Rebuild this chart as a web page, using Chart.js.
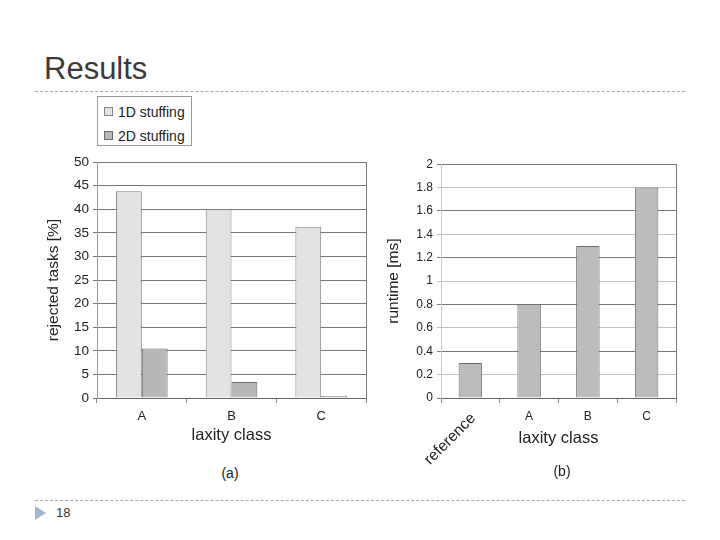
<!DOCTYPE html>
<html>
<head>
<meta charset="utf-8">
<script src="https://cdn.jsdelivr.net/npm/chart.js@4.4.0/dist/chart.umd.min.js"></script>
<style>
  body { margin: 0; width: 720px; height: 540px; background: #fff; position: relative; overflow: hidden;
         font-family: "Liberation Sans", Arial, sans-serif; color: #222; }
  .abs { position: absolute; }
  #title { left: 44px; top: 51px; font-size: 31px; color: #3a3a3a; }
  .rule { left: 35px; width: 650px; height: 0; border-top: 1px dashed #a8a8a8; }
  #tri { left: 35px; top: 506px; width: 0; height: 0; border-top: 7px solid transparent;
         border-bottom: 7px solid transparent; border-left: 11px solid #9fb6cf; }
  #page { left: 56px; top: 505px; font-size: 13px; color: #333; }
  #legend { left: 97px; top: 96px; width: 95px; height: 50px; border: 1px solid #9a9a9a; box-sizing: border-box; }
  .item { position: absolute; left: 6px; font-size: 14px; line-height: 16px; }
  .sw { display: inline-block; width: 7px; height: 7px; margin-right: 5px; vertical-align: 1px; }
  .cap { font-size: 14px; transform: translateX(-50%); }
  canvas { position: absolute; }
</style>
</head>
<body>
<div id="title" class="abs">Results</div>
<div class="abs rule" style="top:91px"></div>
<div class="abs rule" style="top:500px"></div>
<div id="tri" class="abs"></div>
<div id="page" class="abs">18</div>

<div id="legend" class="abs"></div>
<canvas id="left" width="330" height="299" style="left:40px; top:150px"></canvas>
<canvas id="right" width="300" height="329" style="left:380px; top:153px"></canvas>
<div class="abs cap" style="left:230px; top:465px">(a)</div>
<div class="abs cap" style="left:562px; top:463px">(b)</div>

<script>
// left chart: rejected tasks per laxity class
const classes = ['A', 'B', 'C'];
const stuffing1D = [43.8, 40.0, 36.3];
const stuffing2D = [10.5, 3.4, 0.5];

// right chart: runtime
const runtimeLabels = ['reference', 'A', 'B', 'C'];
const runtimeMs = [0.3, 0.8, 1.3, 1.8];

Chart.defaults.font.family = '"Liberation Sans", Arial, sans-serif';
Chart.defaults.color = '#222';

// right-hand border of the plot box
const frame = {
  id: 'frame',
  afterDraw(chart) {
    const a = chart.chartArea, ctx = chart.ctx;
    ctx.save();
    ctx.strokeStyle = '#7a7a7a';
    ctx.lineWidth = 1;
    ctx.beginPath();
    ctx.moveTo(Math.round(a.right) + 0.5, a.top);
    ctx.lineTo(Math.round(a.right) + 0.5, a.bottom);
    ctx.stroke();
    ctx.restore();
  }
};

// the first category label of the runtime chart is drawn slanted
const slantFirst = {
  id: 'slantFirst',
  afterDraw(chart) {
    const x = chart.scales.x, ctx = chart.ctx;
    const px = x.getPixelForTick(0);
    ctx.save();
    ctx.translate(px + 3, x.top + 18);
    ctx.rotate(-Math.PI / 4);
    ctx.font = '15.5px "Liberation Sans", Arial, sans-serif';
    ctx.textAlign = 'right';
    ctx.textBaseline = 'middle';
    ctx.fillStyle = '#222';
    ctx.fillText(chart.data.labels[0], 0, 0);
    ctx.restore();
  }
};

const leftSets = [
  { label: '1D stuffing', data: stuffing1D, backgroundColor: '#e3e3e3', borderColor: '#858585', borderWidth: 1 },
  { label: '2D stuffing', data: stuffing2D, backgroundColor: '#b8b8b8', borderColor: '#6a6a6a', borderWidth: 1 }
];

// html legend from the datasets
const legend = document.getElementById('legend');
leftSets.forEach((ds, i) => {
  const d = document.createElement('div');
  d.className = 'item';
  d.style.top = (7 + i * 24) + 'px';
  d.innerHTML = '<span class="sw" style="background:' + ds.backgroundColor +
    ';border:1px solid ' + ds.borderColor + '"></span>' + ds.label;
  legend.appendChild(d);
});

new Chart(document.getElementById('left'), {
  type: 'bar',
  data: { labels: classes, datasets: leftSets },
  options: {
    responsive: false,
    animation: false,
    layout: { padding: { top: 4, right: 4 } },
    plugins: { legend: { display: false }, tooltip: { enabled: false } },
    datasets: { bar: { categoryPercentage: 0.575, barPercentage: 1 } },
    scales: {
      x: {
        grid: { offset: true, drawOnChartArea: false, tickLength: 5, color: '#888' },
        border: { color: '#666' },
        ticks: { font: { size: 13 }, padding: 6 },
        title: { display: true, text: 'laxity class', font: { size: 16.5 }, padding: { top: 4, bottom: 4 } },
        afterFit(s) { s.height = 51; }
      },
      y: {
        min: 0, max: 50,
        ticks: { stepSize: 5, font: { size: 13.5 }, padding: 4 },
        grid: { color: '#767676', tickLength: 4 },
        border: { color: '#999' },
        title: { display: true, text: 'rejected tasks [%]', font: { size: 15.5 }, padding: { top: 4, bottom: 4 } },
        afterFit(s) { s.width = 57; }
      }
    }
  },
  plugins: [frame]
});

new Chart(document.getElementById('right'), {
  type: 'bar',
  data: {
    labels: runtimeLabels,
    datasets: [{ label: 'runtime', data: runtimeMs, backgroundColor: '#bcbcbc', borderColor: '#6e6e6e', borderWidth: 1 }]
  },
  options: {
    responsive: false,
    animation: false,
    layout: { padding: { top: 4, right: 4, bottom: 30 } },
    plugins: { legend: { display: false }, tooltip: { enabled: false } },
    datasets: { bar: { categoryPercentage: 0.8, barPercentage: 0.5 } },
    scales: {
      x: {
        grid: { offset: true, drawOnChartArea: false, tickLength: 5, color: '#888' },
        border: { color: '#666' },
        ticks: { font: { size: 12 }, padding: 6, callback: (v, i) => i === 0 ? '' : runtimeLabels[i] },
        title: { display: true, text: 'laxity class', font: { size: 16.5 }, padding: { top: 4, bottom: 4 } },
        afterFit(s) { s.height = 54; }
      },
      y: {
        min: 0, max: 2,
        ticks: { stepSize: 0.2, font: { size: 12 }, padding: 4, callback: v => String(+v.toFixed(1)) },
        grid: {
          tickLength: 4,
          color: c => (c.tick && Math.round(c.tick.value * 10) % 4 === 0) ? '#777' : '#c2c2c2'
        },
        border: { color: '#c8c8c8' },
        title: { display: true, text: 'runtime [ms]', font: { size: 15.5 }, padding: { top: 4, bottom: 4 } },
        afterFit(s) { s.width = 61; }
      }
    }
  },
  plugins: [frame, slantFirst]
});
</script>
</body>
</html>
